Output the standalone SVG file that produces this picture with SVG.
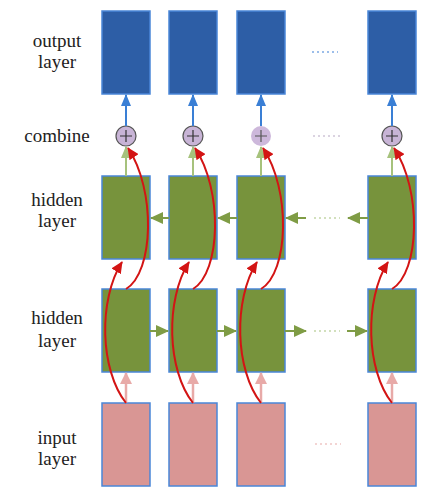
<svg xmlns="http://www.w3.org/2000/svg" width="448" height="500" viewBox="0 0 448 500">
<style>
.lbl{font-family:"Liberation Serif","Times New Roman","DejaVu Serif",serif;font-size:19px;fill:#222;text-anchor:middle}
.out{fill:#2d5ea6;stroke:#4a86d8;stroke-width:1.5}
.hid{fill:#77933c;stroke:#4a86d8;stroke-width:1.5}
.inp{fill:#d99694;stroke:#4a86d8;stroke-width:1.5}
.cmb{fill:#c8b4d6;stroke:#555;stroke-width:1.2}
.plus{stroke:#333;stroke-width:1.2}
.ab{stroke:#3a7fd5;stroke-width:2;fill:none}
.ag{stroke:#a6c27c;stroke-width:2;fill:none}
.agh{stroke:#7f9c45;stroke-width:2;fill:none}
.ap{stroke:#e8aaa8;stroke-width:2.5;fill:none}
.ar{stroke:#d31414;stroke-width:2;fill:none}
.dot{stroke-width:1.2;stroke-dasharray:2 3;fill:none}
</style>
<defs>
<marker id="mb" markerWidth="12" markerHeight="10" refX="11" refY="5" orient="auto" markerUnits="userSpaceOnUse"><path d="M0,0 L12,5 L0,10 z" fill="#3a7fd5"/></marker>
<marker id="mg" markerWidth="12" markerHeight="10" refX="11" refY="5" orient="auto" markerUnits="userSpaceOnUse"><path d="M0,0 L12,5 L0,10 z" fill="#a6c27c"/></marker>
<marker id="mgh" markerWidth="13" markerHeight="12" refX="12" refY="6" orient="auto" markerUnits="userSpaceOnUse"><path d="M0,0 L13,6 L0,12 z" fill="#7f9c45"/></marker>
<marker id="mp" markerWidth="12" markerHeight="12" refX="11" refY="6" orient="auto" markerUnits="userSpaceOnUse"><path d="M0,0 L12,6 L0,12 z" fill="#e8aaa8"/></marker>
<marker id="mr" markerWidth="12" markerHeight="11" refX="11" refY="5.5" orient="auto" markerUnits="userSpaceOnUse"><path d="M0,0 L12,5.5 L0,11 z" fill="#d31414"/></marker>
</defs>

<g id="labels" font-family="Liberation Serif, serif">
<text class="lbl" x="57" y="47">output</text>
<text class="lbl" x="57" y="68">layer</text>
<text class="lbl" x="57" y="142">combine</text>
<text class="lbl" x="57" y="206">hidden</text>
<text class="lbl" x="57" y="227">layer</text>
<text class="lbl" x="57" y="324">hidden</text>
<text class="lbl" x="57" y="347">layer</text>
<text class="lbl" x="57" y="444">input</text>
<text class="lbl" x="57" y="465">layer</text>
</g>

<g id="output-nodes">
<rect id="out1" class="out" x="102" y="11" width="48" height="83"/>
<rect id="out2" class="out" x="169" y="11" width="48" height="83"/>
<rect id="out3" class="out" x="237" y="11" width="48" height="83"/>
<rect id="out4" class="out" x="368" y="11" width="48" height="83"/>
</g>

<g id="combine-nodes">
<g id="cmb1"><circle class="cmb" cx="126" cy="136" r="10"/><path class="plus" d="M120,136 H132 M126,130 V142"/></g>
<g id="cmb2"><circle class="cmb" cx="193" cy="136" r="10"/><path class="plus" d="M187,136 H199 M193,130 V142"/></g>
<g id="cmb3"><circle cx="261" cy="136" r="10" fill="#cdb8db"/><path class="plus" d="M255,136 H267 M261,130 V142" style="stroke:#555"/></g>
<g id="cmb4"><circle class="cmb" cx="392" cy="136" r="10"/><path class="plus" d="M386,136 H398 M392,130 V142"/></g>
</g>

<g id="hidden-top">
<rect id="ht1" class="hid" x="102" y="176" width="48" height="83"/>
<rect id="ht2" class="hid" x="169" y="176" width="48" height="83"/>
<rect id="ht3" class="hid" x="237" y="176" width="48" height="83"/>
<rect id="ht4" class="hid" x="368" y="176" width="48" height="83"/>
</g>

<g id="hidden-bottom">
<rect id="hb1" class="hid" x="102" y="289" width="48" height="83"/>
<rect id="hb2" class="hid" x="169" y="289" width="48" height="83"/>
<rect id="hb3" class="hid" x="237" y="289" width="48" height="83"/>
<rect id="hb4" class="hid" x="368" y="289" width="48" height="83"/>
</g>

<g id="input-nodes">
<rect id="in1" class="inp" x="102" y="403" width="48" height="83"/>
<rect id="in2" class="inp" x="169" y="403" width="48" height="83"/>
<rect id="in3" class="inp" x="237" y="403" width="48" height="83"/>
<rect id="in4" class="inp" x="368" y="403" width="48" height="83"/>
</g>

<g id="connectors">
<path class="ab" d="M126,126 V95" marker-end="url(#mb)"/>
<path class="ab" d="M193,126 V95" marker-end="url(#mb)"/>
<path class="ab" d="M261,126 V95" marker-end="url(#mb)"/>
<path class="ab" d="M392,126 V95" marker-end="url(#mb)"/>
<path class="ag" d="M126,176 V147" marker-end="url(#mg)"/>
<path class="ag" d="M193,176 V147" marker-end="url(#mg)"/>
<path class="ag" d="M261,176 V147" marker-end="url(#mg)"/>
<path class="ag" d="M392,176 V147" marker-end="url(#mg)"/>
<path class="ap" d="M126,403 V373" marker-end="url(#mp)"/>
<path class="ap" d="M193,403 V373" marker-end="url(#mp)"/>
<path class="ap" d="M261,403 V373" marker-end="url(#mp)"/>
<path class="ap" d="M392,403 V373" marker-end="url(#mp)"/>
<path class="agh" d="M169,218 H151" marker-end="url(#mgh)"/>
<path class="agh" d="M237,218 H218" marker-end="url(#mgh)"/>
<path class="agh" d="M306,218 H286" marker-end="url(#mgh)"/>
<path class="agh" d="M368,218 H348" marker-end="url(#mgh)"/>
<path class="dot" stroke="#a6c27c" d="M314,218 H340"/>
<path class="agh" d="M150,331 H168" marker-end="url(#mgh)"/>
<path class="agh" d="M217,331 H236" marker-end="url(#mgh)"/>
<path class="agh" d="M285,331 H306" marker-end="url(#mgh)"/>
<path class="agh" d="M347,331 H367" marker-end="url(#mgh)"/>
<path class="dot" stroke="#a6c27c" d="M314,331 H340"/>
<path class="dot" stroke="#3a7fd5" d="M312,52 H338"/>
<path class="dot" stroke="#b8a8c4" d="M313,136 H340"/>
<path class="dot" stroke="#e8aaa8" d="M315,444 H341"/>
<path class="ar" d="M126,403 C100,370 98,300 122,262" marker-end="url(#mr)"/>
<path class="ar" d="M193,403 C167,370 165,300 189,262" marker-end="url(#mr)"/>
<path class="ar" d="M261,403 C235,370 233,300 257,262" marker-end="url(#mr)"/>
<path class="ar" d="M392,403 C366,370 364,300 388,262" marker-end="url(#mr)"/>
<path class="ar" d="M126,289 C154,272 156,190 128,148" marker-end="url(#mr)"/>
<path class="ar" d="M193,289 C221,272 223,190 195,148" marker-end="url(#mr)"/>
<path class="ar" d="M261,289 C289,272 291,190 263,148" marker-end="url(#mr)"/>
<path class="ar" d="M392,289 C420,272 422,190 394,148" marker-end="url(#mr)"/>
</g>
</svg>
